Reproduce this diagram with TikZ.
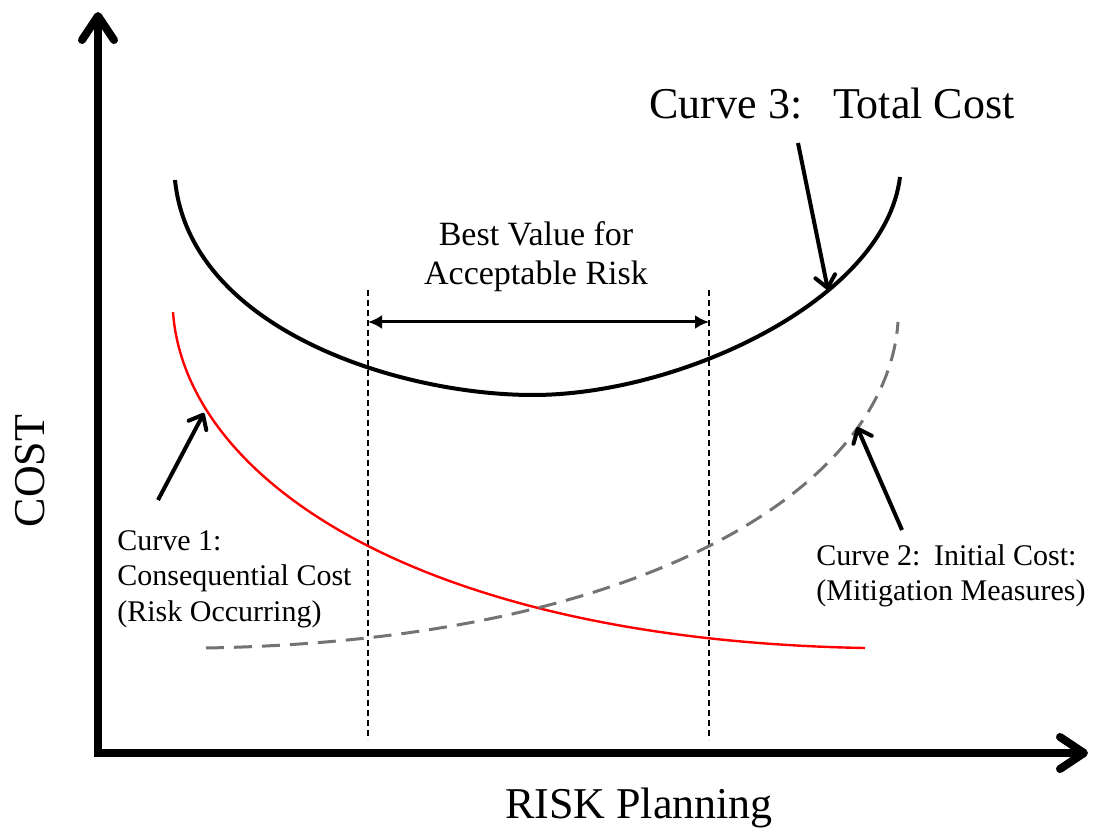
\documentclass[tikz,border=0pt]{standalone}
\usepackage{fontspec}
\setmainfont{Liberation Serif}
\usetikzlibrary{arrows.meta}

\begin{document}
\begin{tikzpicture}[x=0.5pt,y=-0.5pt,
    axis/.style={line width=4pt,{Straight Barb[length=12pt,width=16pt,round]}-{Straight Barb[length=12pt,width=16pt,round]}},
    pointer/.style={line width=2pt,-{Straight Barb[length=6pt,width=10pt,round]}},
    span/.style={line width=1.5pt,{Latex[length=7pt,width=7pt]}-{Latex[length=7pt,width=7pt]}},
    guide/.style={line width=0.6pt,dash pattern=on 3pt off 2pt},
    bigtxt/.style={font=\fontsize{22}{26}\selectfont,inner sep=0pt},
    midtxt/.style={font=\fontsize{17}{19.5}\selectfont,inner sep=0pt,align=center},
    smalltxt/.style={font=\fontsize{15}{17.75}\selectfont,inner sep=0pt,align=left}]
                      \useasboundingbox (0,0) rectangle (1093,828);
                      \coordinate (o) at (98,753);
                      \coordinate (ytip) at (98,12);
                      \coordinate (xtip) at (1088,753);
                      \draw[axis] (ytip) -- (o) -- (xtip);
                      \coordinate (g1top) at (368,290);
                      \coordinate (g1bot) at (368,740);
                      \coordinate (g2top) at (709,290);
                      \coordinate (g2bot) at (709,740);
                      \draw[guide] (g1top) -- (g1bot);
                      \draw[guide] (g2top) -- (g2bot);
                      \draw[line width=2pt] (175,180) .. controls (190,330) and (400,395) .. (533,395) .. controls (680,395) and (885,300) .. (900,177);
                      \draw[red,line width=1.2pt] (173,312) .. controls (185,480) and (420,640) .. (865,648);
                      \draw[black!55,line width=1.5pt,dash pattern=on 9pt off 5pt] (206,648) .. controls (651,640) and (887,485) .. (898,322);
                      \coordinate (lo) at (368,322);
                      \coordinate (hi) at (709,322);
                      \draw[span] (lo) -- (hi);
                      \node[bigtxt,anchor=base](total)at(832,119){Curve 3:\hspace{0.7em}Total Cost};
                      \node[midtxt,anchor=north](best)at(536,221){Best Value for\\Acceptable Risk};
                      \node[smalltxt,anchor=north west](cons)at(117,530){Curve 1:\\Consequential Cost\\(Risk Occurring)};
                      \node[smalltxt,anchor=north west](init)at(816,544){Curve 2:\hspace{0.45em}Initial Cost:\\(Mitigation Measures)};
                      \node[bigtxt,rotate=90,anchor=base](cost)at(45,471){COST};
                      \node[bigtxt,anchor=base](risk)at(639,818){RISK Planning};
                      \coordinate (c3tail) at (798,143);
                      \coordinate (c3tip) at (828,290);
                      \coordinate (c1tail) at (158,500);
                      \coordinate (c1tip) at (204,413);
                      \coordinate (c2tail) at (902,530);
                      \coordinate (c2tip) at (857,427);
                      \draw[pointer](c3tail)--(c3tip);
                      \draw[pointer](c1tail)--(c1tip);
                      \draw[pointer](c2tail)--(c2tip);
                  \end{tikzpicture}
\end{document}
